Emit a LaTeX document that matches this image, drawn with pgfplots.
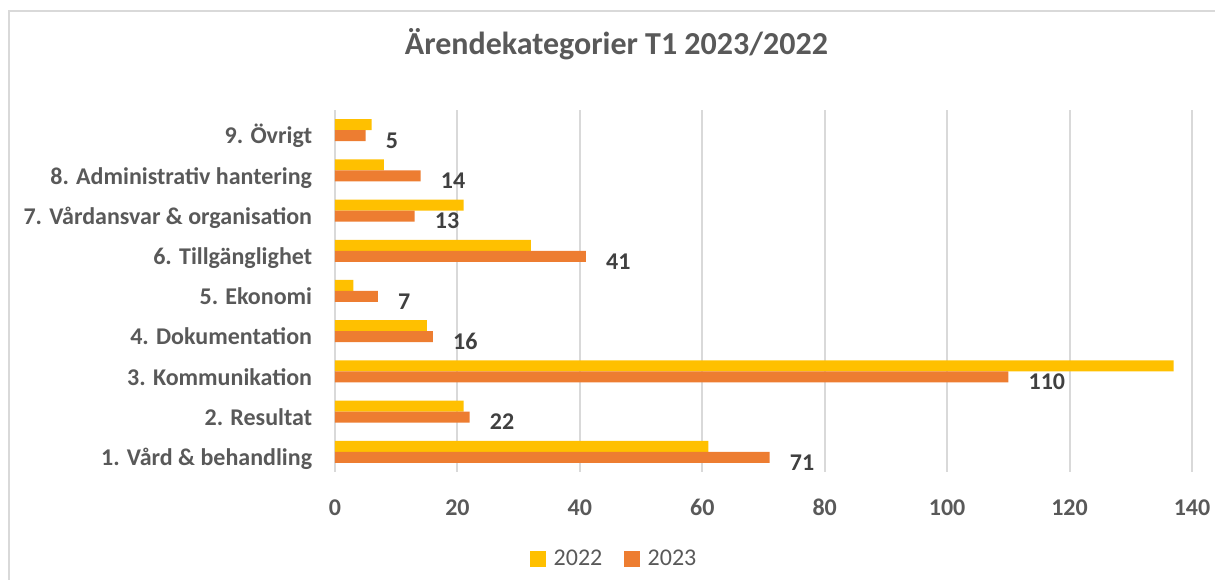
\documentclass[border=0pt]{standalone}
\usepackage{fontspec}
\setmainfont{Carlito}
\usepackage{pgfplots}
\pgfplotsset{compat=1.18}
\pgfplotsset{/pgf/number format/assume math mode=true}
\definecolor{c22}{HTML}{FFC000}
\definecolor{c23}{HTML}{ED7D31}
\definecolor{txt}{HTML}{595959}
\definecolor{lbl}{HTML}{404040}
\definecolor{gridc}{HTML}{D9D9D9}
\newcommand{\lf}{\fontsize{18}{22}\selectfont}
\begin{document}
\begin{tikzpicture}[x=0.75pt,y=0.75pt]
\path[use as bounding box] (0,0) rectangle (1215,580);
\draw[gridc, line width=1.5pt] (9,0) -- (9,569) -- (1215,569);
\node[txt, font=\fontsize{24}{28}\selectfont\bfseries, anchor=base] at (616.5,525) {Ärendekategorier T1 2023/2022};
\begin{axis}[
  at={(251.25pt,81pt)}, anchor=south west,
  scale only axis, width=642.75pt, height=271.5pt,
  xmin=0, xmax=140, ymin=0.5, ymax=9.5,
  xbar, bar width=8.25pt,
  xtick={0,20,...,140}, ytick={1,...,9},
  yticklabels={1. Vård \& behandling, 2. Resultat, 3. Kommunikation, 4. Dokumentation, 5. Ekonomi, 6. Tillgänglighet, 7. Vårdansvar \& organisation, 8. Administrativ hantering, 9. Övrigt},
  axis line style={draw=none},
  major tick length=0pt,
  xmajorgrids, grid style={gridc, line width=1.5pt},
  xticklabel style={font=\lf\bfseries, text=txt, anchor=base, inner sep=0pt, yshift=-33pt},
  yticklabel style={font=\lf\bfseries, text=txt, anchor=base east, inner sep=0pt, xshift=-17pt, yshift=-10.3pt},
  legend style={at={(0.326,-0.240)}, anchor=center, draw=none, fill=none, legend columns=2, font=\lf, text=txt,
    /tikz/every odd column/.append style={column sep=4pt},
    /tikz/every even column/.append style={column sep=14pt}},
  legend image code/.code={\fill[#1] (0pt,-6pt) rectangle (12pt,6pt);},
]
\addplot[fill=c22, draw=none, bar shift=4.125pt] coordinates {
(61,1) (21,2) (137,3) (15,4) (3,5) (32,6) (21,7) (8,8) (6,9)};
\addplot[fill=c23, draw=none, bar shift=-4.125pt,
  nodes near coords,
  nodes near coords style={font=\lf\bfseries, text=lbl, anchor=base west, inner sep=0pt, xshift=15pt, yshift=-9.6pt}]
 coordinates {
(71,1) (22,2) (110,3) (16,4) (7,5) (41,6) (13,7) (14,8) (5,9)};
\legend{2022,2023}
\end{axis}
\end{tikzpicture}
\end{document}
